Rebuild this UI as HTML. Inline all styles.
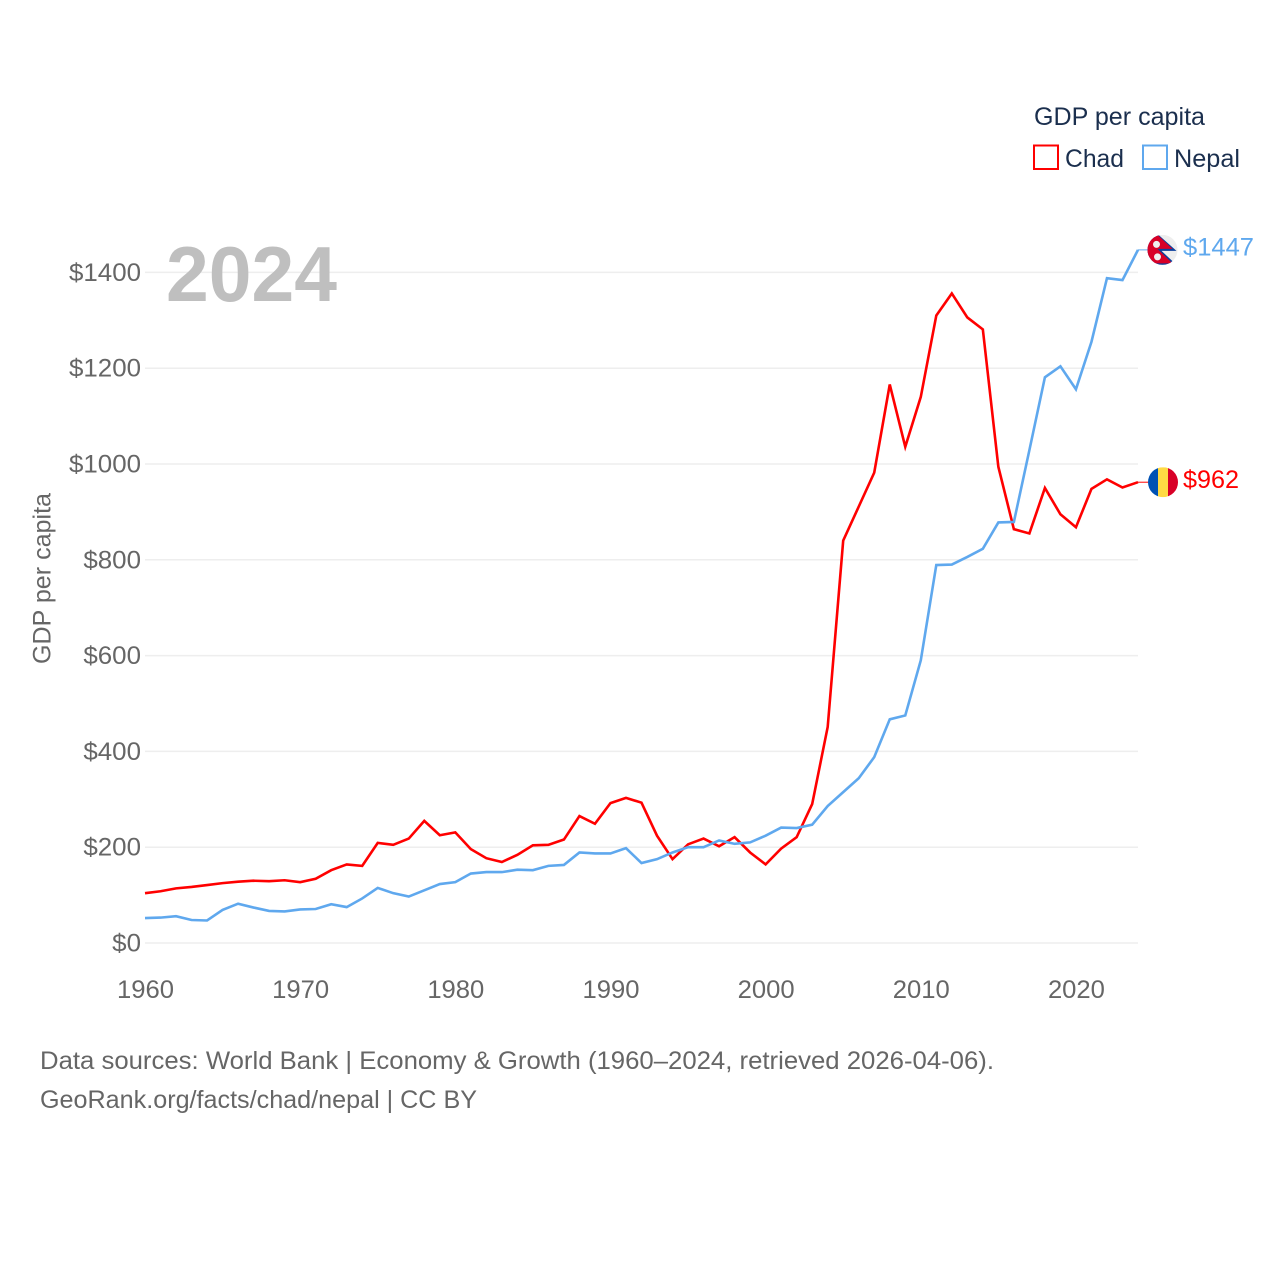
<!DOCTYPE html>
<html lang="en">
<head>
<meta charset="utf-8">
<title>GDP per capita: Chad and Nepal</title>
<style>
html,body{margin:0;padding:0;background:#fff}
svg{display:block}
text{font-family:"Liberation Sans",sans-serif}
</style>
</head>
<body>
<svg id="chart" xmlns="http://www.w3.org/2000/svg" width="1280" height="1280" viewBox="0 0 1280 1280">
  <defs>
    <clipPath id="nepal-clip"><circle cx="0" cy="0" r="15"/></clipPath>
    <clipPath id="chad-clip"><circle cx="0" cy="0" r="15"/></clipPath>
  </defs>
  <rect width="1280" height="1280" fill="#fff"/>
  <g id="grid"></g>
  <g id="y-labels"></g>
  <g id="x-labels"></g>
  <text transform="translate(50.500 578.5) rotate(-90)" text-anchor="middle" font-size="25" fill="#666" textLength="171" lengthAdjust="spacingAndGlyphs">GDP per capita</text>
  <text x="166" y="301" font-size="78" font-weight="700" fill="#bfbfbf" textLength="171" lengthAdjust="spacingAndGlyphs">2024</text>
  <g id="lines"></g>
  <g id="nepal-flag">
    <g clip-path="url(#nepal-clip)">
      <rect x="-15" y="-15" width="30" height="30" fill="#eeeeee"/>
      <polygon points="-15,-15 -4,-15 14,1 -1,1 14,15 -15,15" fill="#0a3f9c"/>
      <polygon points="-15,-15 -5,-15 10,-1 -5,-1 10,13.5 -15,13.5" fill="#d80027"/>
      <circle cx="-6" cy="-5.500" r="3.500" fill="#eeeeee"/>
      <circle cx="-5" cy="7" r="3.500" fill="#eeeeee"/>
    </g>
  </g>
  <g id="chad-flag">
    <g clip-path="url(#chad-clip)">
      <rect x="-15" y="-15" width="10" height="30" fill="#0052b4"/>
      <rect x="-5" y="-15" width="10" height="30" fill="#ffda44"/>
      <rect x="5" y="-15" width="10" height="30" fill="#d80027"/>
    </g>
  </g>
  <g id="value-labels"></g>
  <g>
    <text x="1034" y="125" font-size="25" fill="#1b2f4e" textLength="171" lengthAdjust="spacingAndGlyphs">GDP per capita</text>
    <rect x="1034" y="145.500" width="24" height="23.500" fill="#fff" stroke="#ff0000" stroke-width="2"/>
    <text x="1065" y="167" font-size="25" fill="#1b2f4e" textLength="59" lengthAdjust="spacingAndGlyphs">Chad</text>
    <rect x="1143" y="145.500" width="24" height="23.500" fill="#fff" stroke="#5fa8ee" stroke-width="2"/>
    <text x="1174" y="167" font-size="25" fill="#1b2f4e" textLength="66" lengthAdjust="spacingAndGlyphs">Nepal</text>
  </g>
  <g>
    <text x="40" y="1069" font-size="25" fill="#666" textLength="954" lengthAdjust="spacingAndGlyphs">Data sources: World Bank | Economy &amp; Growth (1960–2024, retrieved 2026-04-06).</text>
    <text x="40" y="1108" font-size="25" fill="#666" textLength="437" lengthAdjust="spacingAndGlyphs">GeoRank.org/facts/chad/nepal | CC BY</text>
  </g>
</svg>
<script>
const startYear = 1960;
const chadValues = [104,108,114,117,121,125,128,130,129,131,127,134,152,164,161,209,205,218,255,225,231,196,177,169,184,204,205,216,265,249,292,303,293,224,175,206,218,202,221,189,164,197,221,290,451,840,911,982,1166,1036,1140,1310,1356,1306,1281,994,864,855,950,895,868,948,968,951,962];
const nepalValues = [52,53,56,48,47,69,82,74,67,66,70,71,81,75,93,115,104,97,110,123,127,145,148,148,153,152,161,163,189,187,187,198,167,175,189,200,200,214,207,210,224,241,240,247,286,315,344,388,467,475,590,789,790,806,823,878,879,1029,1181,1204,1156,1255,1388,1384,1447];
const yTicks = [0,200,400,600,800,1000,1200,1400];
const xTicks = [1960,1970,1980,1990,2000,2010,2020];

const SVGNS = 'http://www.w3.org/2000/svg';
const xLeft = 145, xRight = 1138, yZero = 943, yScaleFactor = 0.479;
const lastIndex = chadValues.length - 1;
function xPos(year) { return xLeft + (year - startYear) * (xRight - xLeft) / lastIndex; }
function yPos(value) { return yZero - value * yScaleFactor; }
function make(tag, attrs, text) {
  const el = document.createElementNS(SVGNS, tag);
  for (const k in attrs) el.setAttribute(k, attrs[k]);
  if (text !== undefined) el.textContent = text;
  return el;
}
const grid = document.getElementById('grid');
const yLabels = document.getElementById('y-labels');
const xLabels = document.getElementById('x-labels');
const linesGroup = document.getElementById('lines');
const valueLabels = document.getElementById('value-labels');

yTicks.forEach(function (t) {
  const gl = make('line', {x1: xLeft, x2: xRight, y1: yPos(t), y2: yPos(t), stroke: '#eeeeee', 'stroke-width': 1.5});
  
  
  grid.appendChild(gl);
  const s = '$' + t;
  const lab = make('text', {x: 141, y: yPos(t) + 8.5, 'text-anchor': 'end', 'font-size': 25, fill: '#666', textLength: s.length * 14.4, lengthAdjust: 'spacingAndGlyphs'}, s);
  
  
  yLabels.appendChild(lab);
});
xTicks.forEach(function (t) {
  const lab = make('text', {x: xPos(t) + 0.5, y: 998, 'text-anchor': 'middle', 'font-size': 25, fill: '#666', textLength: 57, lengthAdjust: 'spacingAndGlyphs'}, String(t));
  
  
  xLabels.appendChild(lab);
});
function seriesPoints(values) {
  return values.map(function (v, i) { return xPos(startYear + i).toFixed(2) + ',' + yPos(v).toFixed(2); }).join(' ');
}
const chadLine = make('polyline', {points: seriesPoints(chadValues), fill: 'none', stroke: '#ff0000', 'stroke-width': 2.6, 'stroke-linejoin': 'miter'});


linesGroup.appendChild(chadLine);
const nepalLine = make('polyline', {points: seriesPoints(nepalValues), fill: 'none', stroke: '#5fa8ee', 'stroke-width': 2.6, 'stroke-linejoin': 'miter'});


linesGroup.appendChild(nepalLine);

const chadLast = chadValues[lastIndex];
const nepalLast = nepalValues[lastIndex];
const chadConnector = make('line', {x1: xRight, x2: 1150, y1: yPos(chadLast), y2: yPos(chadLast), stroke: '#ff0000', 'stroke-width': 1});


linesGroup.appendChild(chadConnector);
const nepalConnector = make('line', {x1: xRight, x2: 1150, y1: yPos(nepalLast), y2: yPos(nepalLast), stroke: '#5fa8ee', 'stroke-width': 1});


linesGroup.appendChild(nepalConnector);

document.getElementById('chad-flag').setAttribute('transform', 'translate(1163 ' + yPos(chadLast) + ')');
document.getElementById('nepal-flag').setAttribute('transform', 'translate(1162.500 ' + yPos(nepalLast) + ')');

const chadValueLabel = make('text', {x: 1183, y: yPos(chadLast) + 6, 'font-size': 25, fill: '#ff0000', textLength: 56, lengthAdjust: 'spacingAndGlyphs'}, '$' + chadLast);


valueLabels.appendChild(chadValueLabel);
const nepalValueLabel = make('text', {x: 1183, y: yPos(nepalLast) + 5.5, 'font-size': 25, fill: '#5fa8ee', textLength: 71, lengthAdjust: 'spacingAndGlyphs'}, '$' + nepalLast);


valueLabels.appendChild(nepalValueLabel);
</script>
</body>
</html>
